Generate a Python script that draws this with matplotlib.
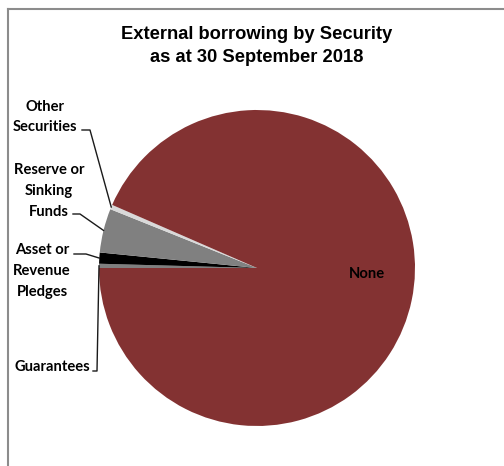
import numpy as np
import matplotlib.pyplot as plt
from matplotlib.lines import Line2D

# share of external borrowing by security type (%)
categories = ['Guarantees', 'Asset or\nRevenue\nPledges', 'Reserve or\nSinking\nFunds',
              'Other\nSecurities', 'None']
values = [0.43, 1.14, 4.5, 0.47, 93.46]
colors = ['#7f7f7f', '#000000', '#808080', '#d9d9d9', '#833232']

W, H = 504, 466
fig = plt.figure(figsize=(W / 100, H / 100), dpi=100)
ax = fig.add_axes([0, 0, 1, 1])

# chart area frame (only top and left edges are visible)
fig.add_artist(Line2D([7.5 / W, 1], [1 - 8.5 / H, 1 - 8.5 / H], color='#8c8c8c', lw=1.5))
fig.add_artist(Line2D([7.5 / W, 7.5 / W], [0, 1 - 8.5 / H], color='#8c8c8c', lw=1.5))

cx, cy, r = 257, H - 268, 158
wedges, _ = ax.pie(values, colors=colors, startangle=180, counterclock=False,
                   center=(cx, cy), radius=r, wedgeprops=dict(linewidth=0),
                   frame=True)
ax.set_xlim(0, W)
ax.set_ylim(0, H)
ax.axis('off')

fig.text(257 / W, 1 - 46 / H, 'External borrowing by Security\nas at 30 September 2018',
         ha='center', va='center', fontsize=13.2, fontweight='bold',
         family='Liberation Sans', linespacing=1.45)

lab_font = dict(fontsize=10.6, fontweight='bold', family='Lato', linespacing=1.6)

# outside labels: (text centre, start of leader line, elbow) in pixels
label_pos = {
    0: ((52, 367), (93, 371), (97, 371)),
    1: ((42, 271), (74, 254), (86, 254)),
    2: ((49, 191), (73, 214), (80, 214)),
    3: ((45, 117), (82, 130), (90, 130)),
}
for i, (tpos, p0, p1) in label_pos.items():
    ax.text(tpos[0], H - tpos[1], categories[i], ha='center', va='center', **lab_font)
    w = wedges[i]
    mid = np.deg2rad((w.theta1 + w.theta2) / 2)
    ex, ey = cx + r * np.cos(mid), cy + r * np.sin(mid)
    ax.plot([p0[0], p1[0], ex], [H - p0[1], H - p1[1], ey], color='#1a1a1a', lw=1)

ax.text(367, H - 274, categories[4], ha='center', va='center', **lab_font)

fig.savefig('out.png', dpi=100)
